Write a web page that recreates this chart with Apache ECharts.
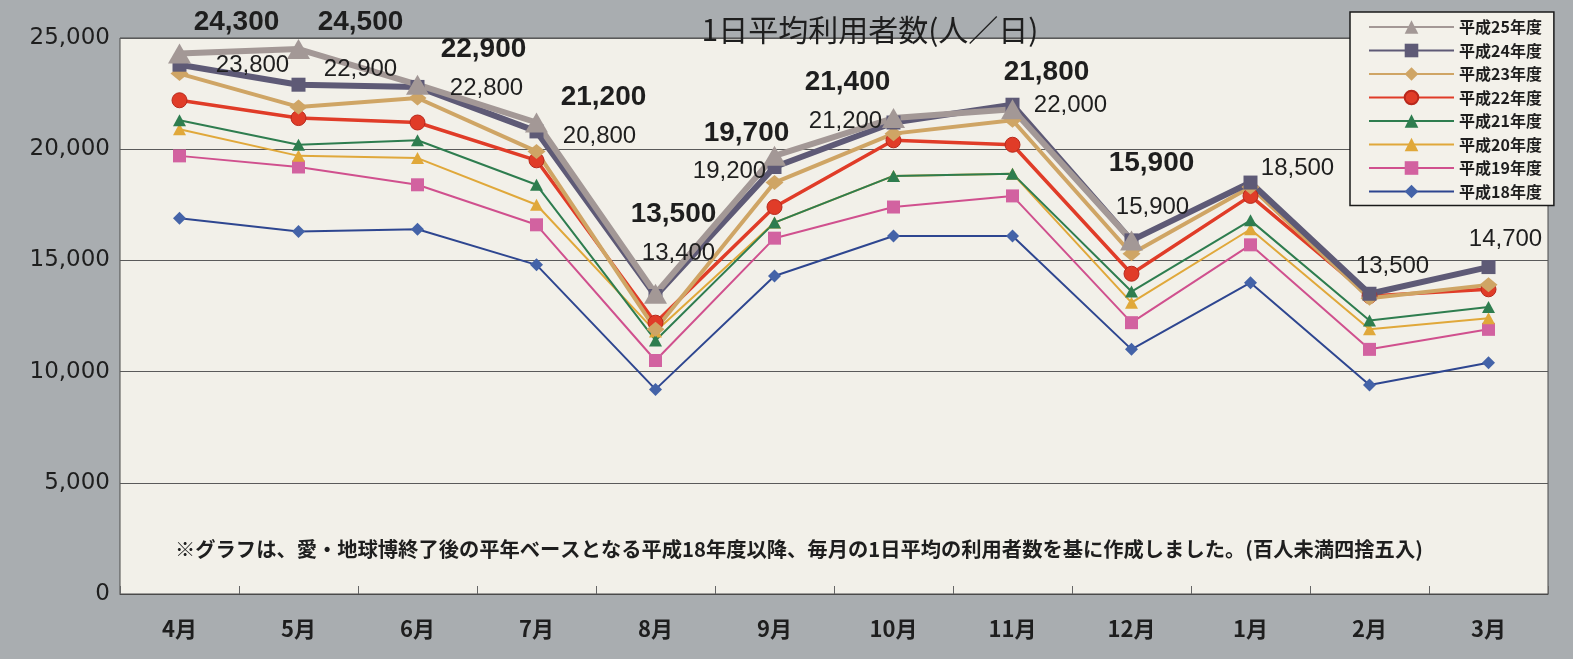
<!DOCTYPE html>
<html><head><meta charset="utf-8">
<script src="https://cdn.jsdelivr.net/npm/echarts@6/dist/echarts.min.js"></script>
<style>html,body{margin:0;padding:0;background:#a9adb0}#c{width:1573px;height:659px}</style>
</head><body><div id="c"></div>
<script>
// ---- data ----
const months = ['4月','5月','6月','7月','8月','9月','10月','11月','12月','1月','2月','3月'];
const yTicks = [0, 5000, 10000, 15000, 20000, 25000];
const h25 = [24300,24500,22900,21200,13500,19700,21400,21800,15900,null,null,null];
const h24 = [23800,22900,22800,20800,13400,19200,21200,22000,15900,18500,13500,14700];
const h23 = [23400,21900,22300,19900,11900,18500,20700,21300,15300,18300,13300,13900];
const h22 = [22200,21400,21200,19500,12200,17400,20400,20200,14400,17900,13400,13700];
const h21 = [21300,20200,20400,18400,11400,16700,18800,18900,13600,16800,12300,12900];
const h20 = [20900,19700,19600,17500,11800,16700,18800,18900,13100,16400,11900,12400];
const h19 = [19700,19200,18400,16600,10500,16000,17400,17900,12200,15700,11000,11900];
const h18 = [16900,16300,16400,14800,9200,14300,16100,16100,11000,14000,9400,10400];
const seriesNames = ['平成25年度','平成24年度','平成23年度','平成22年度','平成21年度','平成20年度','平成19年度','平成18年度'];
const titleText = '1日平均利用者数(人／日)';
const noteText = '※グラフは、愛・地球博終了後の平年ベースとなる平成18年度以降、毎月の1日平均の利用者数を基に作成しました。(百人未満四捨五入)';

// ---- label placement (offsets from point, px) ----
const h25LabelOffsets = [[57,-31],[62,-27],[66,-35],[67,-25],[18,-79],[-28,-23],[-46,-36],[34,-37],[20,-77]];
const h24LabelOffsets = [[73,1],[62,-15],[69,1],[63,5],[23,-43],[-45,4],[-48,-1],[58,1],[21,-33],[47,-14],[23,-27],[17,-28]];

function fmt(v){ return v.toLocaleString('en-US'); }
function labeled(values, offsets, style){
  return values.map((v,i)=> v==null ? null : ({
    value: v,
    label: Object.assign({show:true, position:'inside', offset: offsets[i], formatter: fmt(v)}, style)
  }));
}

const numFont = '"Liberation Sans", Arial, sans-serif';
const cjkFont = '"Noto Sans CJK JP", sans-serif';

const styles = {
  '平成25年度': {color:'#a39896', width:6, symbol:'triangle', size:[23,20]},
  '平成24年度': {color:'#5e5a76', width:6, symbol:'rect', size:14},
  '平成23年度': {color:'#cfa565', width:4, symbol:'diamond', size:[18,15]},
  '平成22年度': {color:'#e03c28', width:3.5, symbol:'circle', size:15, border:'#b8281c'},
  '平成21年度': {color:'#2e7d4f', width:2, symbol:'triangle', size:[13,12]},
  '平成20年度': {color:'#e0a83a', width:2, symbol:'triangle', size:[13,12]},
  '平成19年度': {color:'#d0508e', width:2, symbol:'rect', size:13, fill:'#d262a0'},
  '平成18年度': {color:'#2e4690', width:2, symbol:'diamond', size:[13,13], fill:'#4463a8'}
};

const boldLabel = {fontFamily:numFont, fontWeight:'bold', fontSize:28, color:'#1e1e1e'};
const normLabel = {fontFamily:numFont, fontSize:24, color:'#1e1e1e'};

const dataByName = {
  '平成18年度': h18, '平成19年度': h19, '平成20年度': h20, '平成21年度': h21,
  '平成22年度': h22, '平成23年度': h23,
  '平成24年度': labeled(h24, h24LabelOffsets, normLabel),
  '平成25年度': labeled(h25, h25LabelOffsets, boldLabel)
};
const drawOrder = ['平成18年度','平成19年度','平成20年度','平成21年度','平成22年度','平成23年度','平成24年度','平成25年度'];

const series = drawOrder.map(name => {
  const s = styles[name];
  return {
    name, type:'line', data: dataByName[name],
    symbol: s.symbol, symbolSize: s.size, showAllSymbol: true,
    lineStyle:{color:s.color, width:s.width},
    itemStyle:{color: s.fill || s.color, borderColor: s.border || s.color, borderWidth: s.border ? 1 : 0},
    emphasis:{disabled:true},
    animation:false
  };
});

const chart = echarts.init(document.getElementById('c'));
chart.setOption({
  backgroundColor:'#a9adb0',
  animation:false,
  grid:{left:120, right:25, top:38, bottom:65, show:true, backgroundColor:'#f2f0e9', borderColor:'#4a4a4a', borderWidth:1},
  xAxis:{type:'category', data:months, boundaryGap:true,
    axisLine:{show:true, lineStyle:{color:'#4a4a4a', width:1}},
    axisTick:{show:true, inside:true, length:8, lineStyle:{color:'#666'}},
    axisLabel:{margin:24, fontFamily:cjkFont, fontWeight:'bold', fontSize:22, color:'#1e1e1e'}
  },
  yAxis:{type:'value', min:yTicks[0], max:yTicks[yTicks.length-1], interval:yTicks[1]-yTicks[0],
    axisLine:{show:false}, axisTick:{show:false},
    splitLine:{lineStyle:{color:'#5a5a5a', width:1}},
    axisLabel:{margin:10, fontFamily:'"DejaVu Sans", sans-serif', fontSize:23, color:'#1e1e1e',
      formatter: v => fmt(v)}
  },
  legend:{
    data: seriesNames, orient:'vertical', left:1350, top:12,
    backgroundColor:'#f3f1ea', borderColor:'#1a1a1a', borderWidth:1.5,
    padding:[7,12,6,18], itemWidth:85, itemHeight:17, itemGap:7.5,
    textStyle:{fontFamily:cjkFont, fontWeight:'bold', fontSize:16, color:'#1e1e1e'},
    selectedMode:false
  },
  graphic:[
    {type:'text', z:10,
      style:{text:titleText, x:870, y:30, align:'center', verticalAlign:'middle', fontFamily:cjkFont, fontSize:30, fill:'#1e1e1e'}},
    {type:'text', z:10,
      style:{text:noteText, x:175, y:549, align:'left', verticalAlign:'middle', fontFamily:cjkFont, fontWeight:'bold', fontSize:20.3, fill:'#1e1e1e'}}
  ],
  series
});
</script></body></html>
